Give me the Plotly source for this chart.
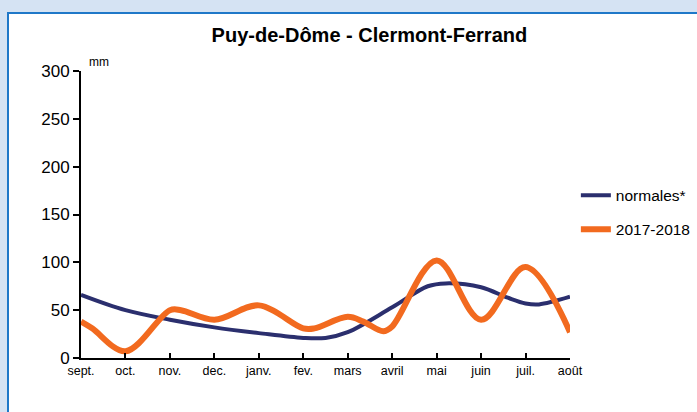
import plotly.graph_objects as go

months = ["sept.", "oct.", "nov.", "dec.", "janv.", "fev.", "mars", "avril", "mai", "juin", "juil.", "août"]
month_pos = list(range(len(months)))

# normales* (mm), position in months from sept.
norm_x = [0, 1, 2, 3, 4, 5, 5.5, 6, 7, 7.8, 8.2, 9, 9.6, 10, 10.3, 11]
norm_y = [66, 50, 40, 32, 26, 21, 21, 27, 53, 75, 78, 74, 63, 57, 56, 64]

# 2017-2018 (mm)
obs_x = [0, 0.25, 1, 2, 2.25, 3, 4, 5, 5.25, 6, 6.35, 6.8, 7, 8, 9, 10, 11]
obs_y = [38, 31, 7, 50, 50, 40, 55, 31, 31, 43, 38, 28, 33, 102, 40, 95, 27]

y_ticks = [0, 50, 100, 150, 200, 250, 300]

fig = go.Figure()
fig.add_trace(go.Scatter(
    x=norm_x, y=norm_y, mode="lines", name="normales*",
    line=dict(color="#2b2f6e", width=4, shape="spline", smoothing=1.0),
    legendgroup="a"))
fig.add_trace(go.Scatter(
    x=obs_x, y=obs_y, mode="lines", name="2017-2018",
    line=dict(color="#f26a1f", width=6, shape="spline", smoothing=1.0),
    legendgroup="b"))

# white panel with blue border (in pixel-equivalent paper units)
W, H = 489.0, 287.0
fig.add_shape(type="rect", xref="paper", yref="paper",
              x0=(8 - 81) / W, x1=(720 - 81) / W, y0=(358 - 430) / H, y1=(358 - 13) / H,
              line=dict(color="#1f78c8", width=2), fillcolor="white", layer="below")

fig.add_annotation(text="mm", xref="paper", yref="paper", x=0.012, y=1.0,
                   xanchor="left", yanchor="bottom", showarrow=False,
                   font=dict(family="Liberation Sans", size=12, color="black"))

fig.update_layout(
    width=697, height=412,
    margin=dict(l=81, r=127, t=71, b=54, autoexpand=False),
    paper_bgcolor="#d5e3f3", plot_bgcolor="white",
    title=dict(text="<b>Puy-de-Dôme - Clermont-Ferrand</b>", x=0.53, xanchor="center",
               y=(412 - 35) / 412, yanchor="middle",
               font=dict(family="Liberation Sans", size=20, color="black")),
    showlegend=True,
    legend=dict(x=1.012, xanchor="left", y=0.625, yanchor="top",
                font=dict(family="Liberation Sans", size=15.5, color="black"),
                bgcolor="rgba(0,0,0,0)", tracegroupgap=11, traceorder="grouped"),
    xaxis=dict(range=[0, 11], tickmode="array", tickvals=month_pos, ticktext=months,
               showgrid=False, zeroline=False, showline=True, linecolor="black", linewidth=2,
               ticks="inside", ticklen=5, tickwidth=1.5, tickcolor="black",
               tickfont=dict(family="Liberation Sans", size=12.5, color="black")),
    yaxis=dict(range=[0, 300], tickmode="array", tickvals=y_ticks,
               showgrid=False, zeroline=False, showline=True, linecolor="black", linewidth=2,
               ticks="outside", ticklen=6, tickwidth=2, tickcolor="black",
               tickfont=dict(family="Liberation Sans", size=17, color="black")),
)

fig.write_html("out.html", config={"displayModeBar": False},
               post_script="document.body.style.margin='0';")
